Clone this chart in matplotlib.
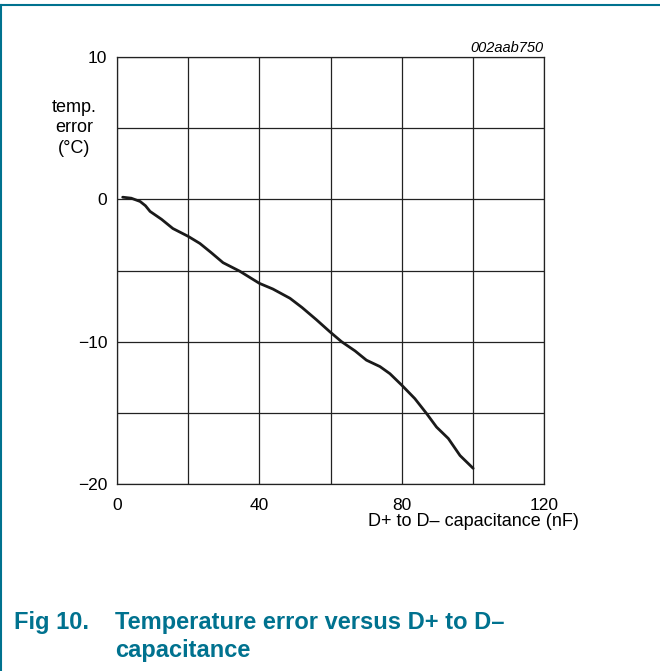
import matplotlib.pyplot as plt
from matplotlib.lines import Line2D

plt.rcParams['font.family'] = ['Liberation Sans', 'DejaVu Sans']

# curve
cap_nf = [1.6, 4.0, 6.5, 8.0, 9.3, 12.5, 15.7, 20.0, 23.3, 26.5, 29.8, 34.5, 40.0,
          43.8, 48.6, 52.0, 56.0, 59.8, 63.1, 66.9, 70.1, 73.9, 76.7, 80.0, 83.7,
          87.0, 89.8, 93.1, 96.4, 100.1]
temp_err = [0.15, 0.08, -0.15, -0.45, -0.85, -1.4, -2.05, -2.6, -3.1, -3.75, -4.45,
            -5.05, -5.9, -6.3, -6.95, -7.6, -8.45, -9.3, -10.0, -10.65, -11.3,
            -11.75, -12.25, -13.05, -14.0, -15.05, -16.0, -16.8, -18.0, -18.9]

x_ticks = [0, 20, 40, 60, 80, 100, 120]
x_labels = ['0', '', '40', '', '80', '', '120']
y_ticks = [-20, -15, -10, -5, 0, 5, 10]
y_labels = ['\u221220', '', '\u221210', '', '0', '', '10']

teal = '#00728f'

fig = plt.figure(figsize=(6.6, 6.71), dpi=100)
ax = fig.add_axes([117 / 660, 1 - 484 / 671, 427 / 660, 427 / 671])

ax.plot(cap_nf, temp_err, color='#1a1a1a', lw=2.0, solid_capstyle='round')

ax.set_xlim(0, 120)
ax.set_ylim(-20, 10)
ax.set_xticks(x_ticks)
ax.set_xticklabels(x_labels)
ax.set_yticks(y_ticks)
ax.set_yticklabels(y_labels)
ax.tick_params(length=0, labelsize=12.5)
ax.tick_params(axis='x', pad=10)
ax.tick_params(axis='y', pad=7)
ax.grid(True, color='#222222', lw=0.9)
for s in ax.spines.values():
    s.set_color('#222222')
    s.set_linewidth(0.9)

fig.text(74 / 660, 1 - 128 / 671, 'temp.\nerror\n(\u00b0C)', ha='center', va='center',
         fontsize=13, linespacing=1.3)
fig.text(543 / 660, 1 - 48 / 671, '002aab750', ha='right', va='center',
         fontsize=10.5, style='italic')
fig.text(579 / 660, 1 - 522 / 671, 'D+ to D\u2013 capacitance (nF)', ha='right', va='center',
         fontsize=13)

fig.text(14 / 660, 1 - 622 / 671, 'Fig 10.', ha='left', va='center',
         fontsize=17, fontweight='bold', color=teal)
fig.text(115 / 660, 1 - 622 / 671, 'Temperature error versus D+ to D\u2013', ha='left',
         va='center', fontsize=17, fontweight='bold', color=teal)
fig.text(115 / 660, 1 - 650 / 671, 'capacitance', ha='left', va='center',
         fontsize=17, fontweight='bold', color=teal)

# frame lines at top and left
fig.add_artist(Line2D([0.002, 1], [1 - 5 / 671, 1 - 5 / 671], color=teal, lw=1.5,
                      transform=fig.transFigure))
fig.add_artist(Line2D([0.002, 0.002], [0, 1 - 5 / 671], color=teal, lw=1.5,
                      transform=fig.transFigure))

fig.savefig('out.png', dpi=100)
